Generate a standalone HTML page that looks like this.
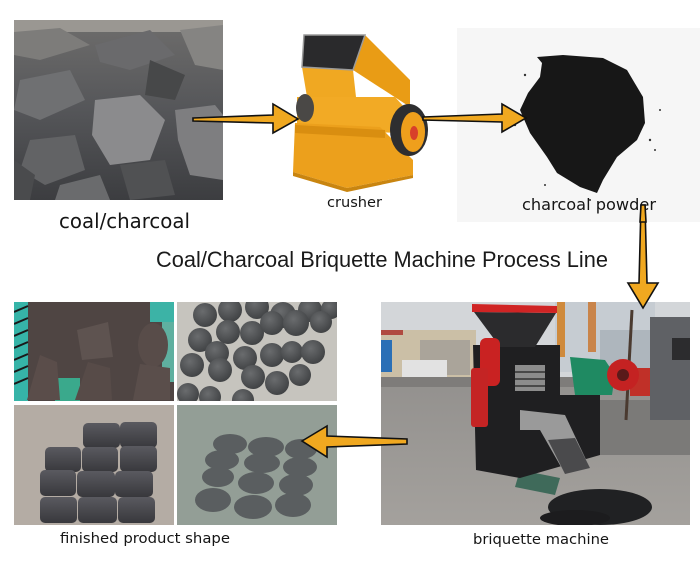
<!DOCTYPE html>
<html><head><meta charset="utf-8"><style>
html,body{margin:0;padding:0;background:#fff;width:700px;height:572px;overflow:hidden}
svg{display:block}
.lbl{font-family:"DejaVu Sans","Liberation Sans",sans-serif;fill:#151515}
.ttl{font-family:"Liberation Sans",sans-serif;fill:#1a1a1a}
</style></head><body>
<svg width="700" height="572" viewBox="0 0 700 572" xmlns="http://www.w3.org/2000/svg">
<defs>
<linearGradient id="coalg" x1="0" y1="0" x2="0" y2="1">
<stop offset="0" stop-color="#6e6d6c"/><stop offset="0.5" stop-color="#555659"/><stop offset="1" stop-color="#3c3d40"/></linearGradient>
<linearGradient id="floor" x1="0" y1="0" x2="0" y2="1">
<stop offset="0" stop-color="#8a8886"/><stop offset="1" stop-color="#a4a19d"/></linearGradient>
<radialGradient id="ball" cx="0.4" cy="0.35" r="0.7">
<stop offset="0" stop-color="#6a6c6e"/><stop offset="1" stop-color="#3e4042"/></radialGradient>
<linearGradient id="cyl" x1="0" y1="0" x2="0" y2="1">
<stop offset="0" stop-color="#5a5a60"/><stop offset="1" stop-color="#38383c"/></linearGradient>
<clipPath id="cTL"><rect x="14" y="302" width="160" height="99"/></clipPath>
<clipPath id="cTR"><rect x="177" y="302" width="160" height="99"/></clipPath>
<clipPath id="cBL"><rect x="14" y="405" width="160" height="120"/></clipPath>
<clipPath id="cBR"><rect x="177" y="405" width="160" height="120"/></clipPath>
<clipPath id="cM"><rect x="381" y="302" width="309" height="223"/></clipPath>
<clipPath id="cC"><rect x="14" y="20" width="209" height="180"/></clipPath>
</defs>

<!-- coal photo -->
<g clip-path="url(#cC)">
<rect x="14" y="20" width="209" height="180" fill="url(#coalg)"/>
<rect x="14" y="20" width="209" height="12" fill="#9a9792"/>
<polygon points="14,32 60,28 90,45 40,60 14,55" fill="#7d7c7a"/>
<polygon points="95,45 150,30 175,55 130,70 100,62" fill="#6a6a6c"/>
<polygon points="180,30 223,25 223,70 195,65" fill="#858482"/>
<polygon points="20,80 70,70 85,100 40,120 14,110" fill="#6f7072"/>
<polygon points="95,100 140,95 165,120 150,160 110,165 92,135" fill="#8b8b8d"/>
<polygon points="175,110 215,105 223,115 223,180 190,175 178,140" fill="#7e7e80"/>
<polygon points="30,140 75,135 85,170 45,185 20,170" fill="#626365"/>
<polygon points="120,165 165,160 175,195 130,200" fill="#505153"/>
<polygon points="14,160 35,175 30,200 14,200" fill="#4a4b4d"/>
<polygon points="60,185 100,175 110,200 55,200" fill="#6a6b6d"/>
<polygon points="150,60 185,75 175,100 145,95" fill="#474849"/>
</g>

<!-- crusher -->
<polygon points="304,35 365,35 410,80 410,107 353,70" fill="#e99c15"/>
<polygon points="302,67 353,70 356,97 307,97" fill="#f0a822"/>
<polygon points="304,35 365,35 353,70 302,67" fill="#2a2a2c" stroke="#9a9a9a" stroke-width="1.5"/>
<polygon points="297,97 395,97 405,108 405,133 297,130" fill="#f2aa25"/>
<polygon points="295,123 380,127 413,160 413,175 347,188 293,172" fill="#eca01c"/>
<polygon points="295,125 385,130 385,138 295,133" fill="#d98e10"/>
<polygon points="293,172 347,188 413,175 413,178 347,192 293,176" fill="#c98510"/>
<ellipse cx="305" cy="108" rx="9" ry="14" fill="#4a4846"/>
<ellipse cx="409" cy="130" rx="19" ry="26" fill="#2e2e30"/>
<ellipse cx="413" cy="132" rx="12" ry="20" fill="#ef9f1c"/>
<ellipse cx="414" cy="133" rx="4" ry="7" fill="#d8402a"/>

<!-- powder area -->
<rect x="457" y="28" width="243" height="194" fill="#f6f6f6"/>
<path d="M537,57 L563,55 L603,58 L627,70 L643,97 L645,123 L637,140 L617,157 L603,180 L597,193 L580,187 L557,173 L547,157 L530,133 L520,110 L528,93 L540,77 L542,63 Z" fill="#171717"/>
<g fill="#333">
<circle cx="525" cy="75" r="1.2"/><circle cx="650" cy="140" r="1.2"/><circle cx="655" cy="150" r="1"/><circle cx="515" cy="125" r="1.2"/><circle cx="590" cy="200" r="1"/><circle cx="660" cy="110" r="1"/><circle cx="545" cy="185" r="1"/>
</g>

<!-- finished TL -->
<g clip-path="url(#cTL)">
<rect x="14" y="302" width="160" height="99" fill="#4f4543"/>
<rect x="14" y="302" width="14" height="99" fill="#36b4a8"/>
<g stroke="#1a1a1a" stroke-width="2"><line x1="14" y1="312" x2="28" y2="306"/><line x1="14" y1="324" x2="28" y2="318"/><line x1="14" y1="336" x2="28" y2="330"/><line x1="14" y1="348" x2="28" y2="342"/><line x1="14" y1="360" x2="28" y2="354"/><line x1="14" y1="372" x2="28" y2="366"/><line x1="14" y1="384" x2="28" y2="378"/></g>
<rect x="150" y="302" width="24" height="20" fill="#3cb3a6"/>
<rect x="162" y="322" width="12" height="60" fill="#5fb0a0"/>
<rect x="55" y="378" width="25" height="23" fill="#3aa98c"/>
<polygon points="27,400 40,355 57,362 60,400" fill="#5a4d4a"/>
<polygon points="77,330 108,322 113,357 82,360" fill="#5e5350"/>
<ellipse cx="153" cy="345" rx="15" ry="22" fill="#584c49"/>
<polygon points="75,400 88,362 110,368 112,400" fill="#574b48"/>
<polygon points="133,400 140,364 170,368 170,400" fill="#5a4e4b"/>
</g>

<!-- finished TR -->
<g clip-path="url(#cTR)">
<rect x="177" y="302" width="160" height="99" fill="#c6c4be"/>
<g fill="url(#ball)">
<circle cx="205" cy="315" r="12"/><circle cx="230" cy="310" r="12"/><circle cx="257" cy="307" r="12"/><circle cx="283" cy="315" r="13"/><circle cx="310" cy="310" r="12"/><circle cx="331" cy="309" r="10"/>
<circle cx="200" cy="340" r="12"/><circle cx="228" cy="332" r="12"/><circle cx="252" cy="333" r="12"/><circle cx="272" cy="323" r="12"/><circle cx="296" cy="323" r="13"/><circle cx="321" cy="322" r="11"/>
<circle cx="192" cy="365" r="12"/><circle cx="217" cy="353" r="12"/><circle cx="245" cy="358" r="12"/><circle cx="272" cy="355" r="12"/><circle cx="292" cy="352" r="11"/><circle cx="313" cy="352" r="12"/>
<circle cx="220" cy="370" r="12"/><circle cx="253" cy="377" r="12"/><circle cx="277" cy="383" r="12"/><circle cx="300" cy="375" r="11"/>
<circle cx="188" cy="394" r="11"/><circle cx="210" cy="397" r="11"/><circle cx="243" cy="400" r="11"/>
</g>
</g>

<!-- finished BL -->
<g clip-path="url(#cBL)">
<rect x="14" y="405" width="160" height="120" fill="#b4aca4"/>
<g fill="url(#cyl)">
<rect x="83" y="423" width="37" height="25" rx="5"/><rect x="120" y="422" width="37" height="26" rx="5"/>
<rect x="45" y="447" width="36" height="25" rx="5"/><rect x="82" y="447" width="36" height="25" rx="5"/><rect x="120" y="446" width="37" height="26" rx="5"/>
<rect x="40" y="470" width="36" height="26" rx="5"/><rect x="77" y="471" width="38" height="26" rx="5"/><rect x="115" y="471" width="38" height="26" rx="5"/>
<rect x="40" y="497" width="37" height="26" rx="5"/><rect x="78" y="497" width="39" height="26" rx="5"/><rect x="118" y="497" width="37" height="26" rx="5"/>
</g>
</g>

<!-- finished BR -->
<g clip-path="url(#cBR)">
<rect x="177" y="405" width="160" height="120" fill="#939e96"/>
<g fill="#5a5e60">
<ellipse cx="230" cy="444" rx="17" ry="10"/><ellipse cx="266" cy="447" rx="18" ry="10"/><ellipse cx="301" cy="449" rx="16" ry="10"/>
<ellipse cx="222" cy="460" rx="17" ry="10"/><ellipse cx="262" cy="463" rx="18" ry="10"/><ellipse cx="300" cy="467" rx="17" ry="10"/>
<ellipse cx="218" cy="477" rx="16" ry="10"/><ellipse cx="256" cy="483" rx="18" ry="11"/><ellipse cx="296" cy="485" rx="17" ry="11"/>
<ellipse cx="213" cy="500" rx="18" ry="12"/><ellipse cx="253" cy="507" rx="19" ry="12"/><ellipse cx="293" cy="505" rx="18" ry="12"/>
</g>
</g>

<!-- briquette machine photo -->
<g clip-path="url(#cM)">
<rect x="381" y="302" width="309" height="223" fill="url(#floor)"/>
<rect x="381" y="302" width="309" height="75" fill="#d3d6d9"/>
<rect x="555" y="302" width="100" height="70" fill="#c6ccd2"/>
<rect x="600" y="330" width="50" height="40" fill="#aeb6bd"/>
<rect x="381" y="330" width="95" height="48" fill="#cbbfa6"/>
<rect x="381" y="330" width="22" height="5" fill="#b04a40"/>
<rect x="381" y="340" width="11" height="32" fill="#2a6fb6"/>
<rect x="420" y="340" width="50" height="35" fill="#aaa49a"/>
<rect x="402" y="360" width="45" height="17" fill="#e2e2e2"/>
<rect x="381" y="377" width="309" height="10" fill="#7e7c7a"/>
<rect x="600" y="400" width="90" height="55" fill="#7b7a78"/>
<rect x="557" y="302" width="8" height="55" fill="#cf8a3c"/>
<rect x="588" y="302" width="8" height="50" fill="#c9844a"/>
<line x1="632" y1="310" x2="626" y2="420" stroke="#4a3a30" stroke-width="3"/>
<rect x="630" y="368" width="22" height="28" fill="#c03028"/>
<rect x="650" y="317" width="40" height="103" fill="#5f6165"/>
<rect x="672" y="338" width="18" height="22" fill="#2c2c2e"/>
<polygon points="520,470 560,478 555,495 515,487" fill="#3f6a5a"/>
<polygon points="473,345 560,345 560,395 600,395 600,455 520,478 476,470" fill="#1f1f21"/>
<polygon points="474,312 556,313 535,347 500,347" fill="#2b2b2d"/>
<polygon points="472,304 557,306 557,313 472,312" fill="#d02424"/>
<rect x="515" y="365" width="30" height="26" fill="#8c8c8c"/>
<g stroke="#333" stroke-width="1.5"><line x1="515" y1="372" x2="545" y2="372"/><line x1="515" y1="379" x2="545" y2="379"/><line x1="515" y1="386" x2="545" y2="386"/></g>
<rect x="480" y="338" width="20" height="48" rx="6" fill="#c92222"/>
<rect x="471" y="368" width="17" height="59" rx="3" fill="#c42424"/>
<polygon points="570,357 605,360 615,375 612,395 575,395" fill="#1f8a62"/>
<circle cx="623" cy="375" r="16" fill="#c42222"/>
<circle cx="623" cy="375" r="6" fill="#5a1a1a"/>
<polygon points="520,410 565,415 590,468 565,474 540,430 520,430" fill="#9a9a9a"/>
<polygon points="548,440 575,438 590,468 565,474" fill="#4a4a4c"/>
<ellipse cx="600" cy="507" rx="52" ry="18" fill="#202123"/>
<ellipse cx="575" cy="518" rx="35" ry="8" fill="#1c1c1e"/>
</g>

<!-- arrows -->
<g fill="#f0a820" stroke="#111" stroke-width="1.6" stroke-linejoin="miter">
<polygon points="193,118 273,115 273,104 298,119 273,133 273,123 193,121"/>
<polygon points="423,117 502,114 502,104 526,118 502,132 502,122 423,120"/>
<polygon points="641,205 645,205 647,283 658,283 643,308 628,283 639,283"/>
<polygon points="302,441 327,426 327,436 407,439 407,444 327,447 327,457"/>
</g>

<!-- labels -->
<text class="lbl" x="59" y="228" font-size="20" textLength="131" lengthAdjust="spacingAndGlyphs">coal/charcoal</text>
<text class="lbl" x="327" y="207" font-size="14" textLength="55" lengthAdjust="spacingAndGlyphs">crusher</text>
<text class="lbl" x="522" y="210" font-size="16" textLength="134" lengthAdjust="spacingAndGlyphs">charcoal powder</text>
<text class="ttl" x="156" y="267" font-size="22" textLength="452" lengthAdjust="spacingAndGlyphs">Coal/Charcoal Briquette Machine Process Line</text>
<text class="lbl" x="60" y="543" font-size="14" textLength="170" lengthAdjust="spacingAndGlyphs">finished product shape</text>
<text class="lbl" x="473" y="544" font-size="14" textLength="136" lengthAdjust="spacingAndGlyphs">briquette machine</text>
<polygon points="641,205 645,205 646,222 640,222" fill="#f0a820" stroke="#111" stroke-width="1.6"/>
</svg>
</body></html>
